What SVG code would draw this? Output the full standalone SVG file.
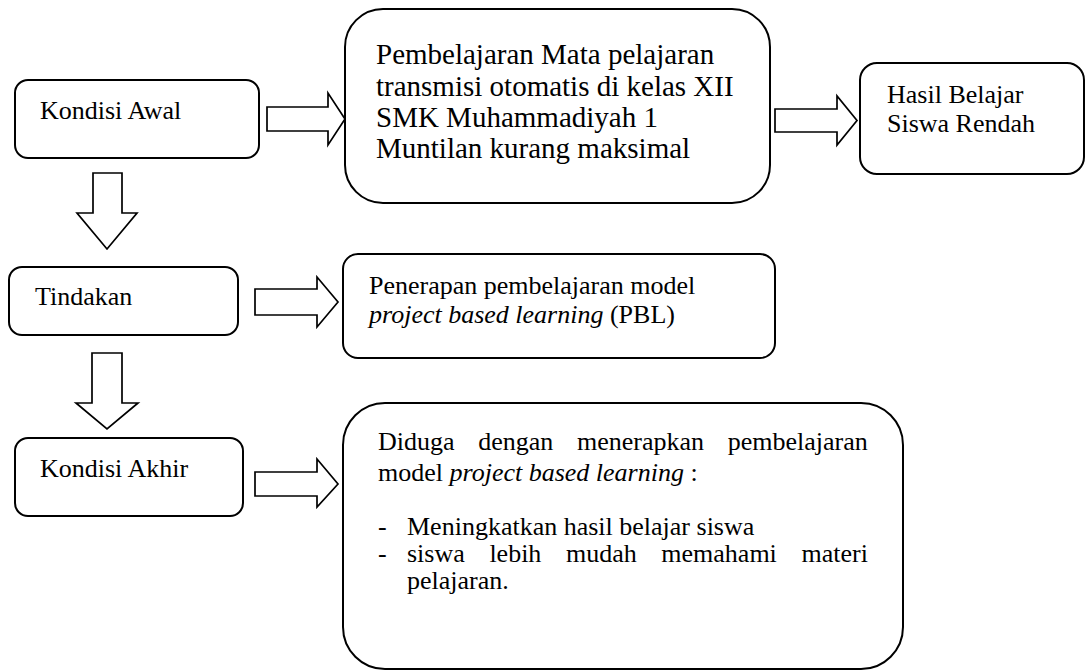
<svg xmlns="http://www.w3.org/2000/svg" width="1086" height="671" viewBox="0 0 1086 671">
<style>
.box{fill:#fff;stroke:#000;stroke-width:2}
.arr{fill:#fff;stroke:#000;stroke-width:1.7;stroke-linejoin:miter}
.t{font-family:"Liberation Serif","Times New Roman",serif;font-size:26px;fill:#000}
.tb{font-family:"Liberation Serif","Times New Roman",serif;font-size:29px;fill:#000}
.i{font-style:italic}
</style>
<rect width="1086" height="671" fill="#fff"/>
<g id="connectors">
<path class="arr" d="M267,107 H328 V93 L345,119 L328,145 V131 H267 Z"/>
<path class="arr" d="M775,109 H837 V96 L857,120.5 L837,145 V132 H775 Z"/>
<path class="arr" d="M255,289 H317 V277 L338,302 L317,327 V315 H255 Z"/>
<path class="arr" d="M255,472 H317 V459 L338,484 L317,507 V496 H255 Z"/>
<path class="arr" d="M93,173 H122 V213 H137 L107,249 L77,213 H93 Z"/>
<path class="arr" d="M92,353 H122 V403 H138 L107,429 L76,403 H92 Z"/>
</g>
<g id="kondisi-awal">
<rect class="box" x="15" y="80" width="244" height="78" rx="13"/>
<text class="t" x="40" y="119">Kondisi Awal</text>
</g>
<g id="pembelajaran">
<rect class="box" x="345" y="9" width="425" height="194" rx="38"/>
<text class="tb" x="376" y="64">Pembelajaran Mata pelajaran</text>
<text class="tb" x="376" y="96">transmisi otomatis di kelas XII</text>
<text class="tb" x="376" y="127">SMK Muhammadiyah 1</text>
<text class="tb" x="376" y="158">Muntilan kurang maksimal</text>
</g>
<g id="hasil">
<rect class="box" x="860" y="63" width="224" height="111" rx="17"/>
<text class="t" x="887" y="103">Hasil Belajar</text>
<text class="t" x="887" y="132">Siswa Rendah</text>
</g>
<g id="tindakan">
<rect class="box" x="9" y="267" width="229" height="68" rx="13"/>
<text class="t" x="35" y="305">Tindakan</text>
</g>
<g id="penerapan">
<rect class="box" x="343" y="254" width="432" height="104" rx="15"/>
<text class="t" x="369" y="294">Penerapan pembelajaran model</text>
<text class="t" x="369" y="323"><tspan class="i">project based learning</tspan> (PBL)</text>
</g>
<g id="kondisi-akhir">
<rect class="box" x="15" y="438" width="228" height="78" rx="13"/>
<text class="t" x="40" y="477">Kondisi Akhir</text>
</g>
<g id="diduga">
<rect class="box" x="343" y="403" width="560" height="266" rx="42"/>
<text class="t" x="378" y="450" word-spacing="17.2">Diduga dengan menerapkan pembelajaran</text>
<text class="t" x="378" y="481">model <tspan class="i">project based learning</tspan> :</text>
<text class="t" x="378" y="535">-</text>
<text class="t" x="407" y="535">Meningkatkan hasil belajar siswa</text>
<text class="t" x="378" y="562">-</text>
<text class="t" x="407" y="562" word-spacing="18.1">siswa lebih mudah memahami materi</text>
<text class="t" x="407" y="589">pelajaran.</text>
</g>
</svg>
